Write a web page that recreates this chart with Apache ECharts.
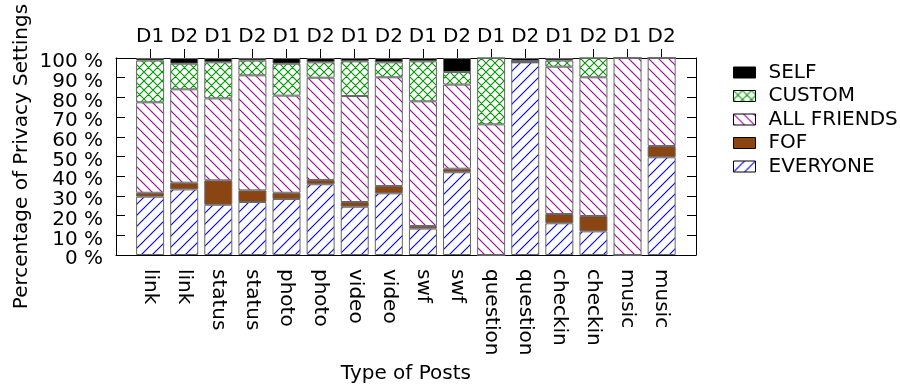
<!DOCTYPE html>
<html><head><meta charset="utf-8">
<script src="https://cdn.jsdelivr.net/npm/echarts@6/dist/echarts.min.js"></script>
<style>html,body{margin:0;padding:0;background:#fff}#c{width:900px;height:386px}</style>
</head><body><div id="c"></div>
<script>
const categories = ['link','link','status','status','photo','photo','video','video','swf','swf','question','question','checkin','checkin','music','music'];
const datasets = ['D1','D2','D1','D2','D1','D2','D1','D2','D1','D2','D1','D2','D1','D2','D1','D2'];
const yTicks = [0,10,20,30,40,50,60,70,80,90,100];
const everyone   = [29.6, 33.3, 25.5, 26.9, 28.4, 35.9, 24.5, 31.3, 13.4, 42.0, 0,    97.8, 16.1, 12.0, 0,   49.6];
const fof        = [2.0,  3.4,  12.4, 5.9,  3.2,  2.2,  2.4,  3.7,  1.3,  1.8,  0,    0,    4.7,  7.8,  0,   5.7];
const allFriends = [45.9, 47.4, 41.6, 58.4, 49.3, 51.9, 53.8, 55.2, 63.3, 42.7, 66.3, 0.7,  74.8, 70.4, 100, 44.7];
const custom     = [21.2, 13.0, 18.3, 7.5,  16.2, 7.8,  17.6, 7.6,  20.3, 6.4,  33.7, 0,    3.1,  9.8,  0,   0];
const self       = [1.3,  2.9,  2.2,  1.3,  2.9,  2.2,  1.7,  2.2,  1.7,  7.1,  0,    1.5,  1.3,  0,    0,   0];

function pattern(color, kind, s) {
  const c = document.createElement('canvas');
  c.width = s; c.height = s;
  const g = c.getContext('2d');
  g.fillStyle = '#ffffff'; g.fillRect(0, 0, s, s);
  g.strokeStyle = color; g.lineWidth = 1.1;
  g.beginPath();
  if (kind !== 'back') {
    g.moveTo(0, s); g.lineTo(s, 0);
    g.moveTo(-2, 2); g.lineTo(2, -2);
    g.moveTo(s - 2, s + 2); g.lineTo(s + 2, s - 2);
  }
  if (kind !== 'fwd') {
    g.moveTo(0, 0); g.lineTo(s, s);
    g.moveTo(-2, s - 2); g.lineTo(2, s + 2);
    g.moveTo(s - 2, -2); g.lineTo(s + 2, 2);
  }
  g.stroke();
  return { type: 'pattern', image: c, repeat: 'repeat' };
}

const FONT = 'DejaVu Sans';
const FS = 20;

const patCustom = pattern('rgb(0,153,0)', 'cross', 9);
const patAll = pattern('rgb(160,0,160)', 'back', 10);
const patEvery = pattern('rgb(0,0,255)', 'fwd', 11);

function mk(name, arr, color) {
  return {
    name, type: 'bar', stack: 'all', barWidth: 28,
    xAxisIndex: 0, yAxisIndex: 2,
    data: arr,
    itemStyle: { color, borderColor: '#666', borderWidth: 1 },
    emphasis: { disabled: true }
  };
}

const lineStyle = { color: '#000', width: 1 };
function labelAxis(values) {
  return {
    type: 'value', gridIndex: 1, position: 'left', min: 0, max: 100, interval: 10,
    axisLine: { show: false }, axisTick: { show: false }, splitLine: { show: false },
    axisLabel: {
      customValues: values, showMinLabel: true, showMaxLabel: true,
      margin: 13, color: '#000',
      formatter: v => '{a|' + v + ' %}',
      rich: { a: { fontFamily: FONT, fontSize: FS, color: '#000', padding: [8, 0, 0, 0] } }
    }
  };
}

const chart = echarts.init(document.getElementById('c'), null, { renderer: 'canvas' });
chart.setOption({
  animation: false,
  backgroundColor: '#fff',
  textStyle: { fontFamily: FONT },
  grid: [
    { left: 133.05, top: 58, right: 221.3, bottom: 131, outerBoundsMode: 'none', containLabel: false },
    { left: 116, top: 58, right: 204, bottom: 131, outerBoundsMode: 'none', containLabel: false }
  ],
  legend: {
    orient: 'vertical', left: 728, top: 57.5,
    itemWidth: 22, itemHeight: 11, itemGap: 3.5,
    icon: 'rect',
    data: ['SELF', 'CUSTOM', 'ALL FRIENDS', 'FOF', 'EVERYONE'],
    itemStyle: { borderColor: '#000', borderWidth: 1 },
    textStyle: { fontFamily: FONT, fontSize: FS, lineHeight: 20, color: '#000', padding: [0, 0, 0, 8] },
    selectedMode: false
  },
  xAxis: [
    {
      type: 'category', gridIndex: 0, position: 'bottom', data: categories,
      axisLine: { show: false }, axisTick: { show: false }, splitLine: { show: false },
      axisLabel: { interval: 0, rotate: -90, margin: 14, fontFamily: FONT, fontSize: FS, color: '#000' },
      name: 'Type of Posts', nameLocation: 'middle', nameGap: 105,
      nameTextStyle: { fontFamily: FONT, fontSize: FS, color: '#000' }
    },
    {
      type: 'category', gridIndex: 0, position: 'top', data: datasets,
      axisLine: { show: false },
      axisTick: { show: true, alignWithLabel: true, interval: 0, inside: false, length: 9, lineStyle },
      splitLine: { show: false },
      axisLabel: { interval: 0, margin: 11, fontFamily: FONT, fontSize: FS, color: '#000' }
    },
    {
      type: 'value', gridIndex: 1, position: 'bottom', min: 0, max: 1,
      axisLine: { show: true, onZero: false, lineStyle }, axisTick: { show: false },
      axisLabel: { show: false }, splitLine: { show: false }
    },
    {
      type: 'value', gridIndex: 1, position: 'top', min: 0, max: 1,
      axisLine: { show: true, onZero: false, lineStyle }, axisTick: { show: false },
      axisLabel: { show: false }, splitLine: { show: false }
    }
  ],
  yAxis: [
    {
      type: 'value', gridIndex: 1, position: 'left', min: 0, max: 100, interval: 10,
      axisLine: { show: true, onZero: false, lineStyle },
      axisTick: { show: true, inside: true, length: 9, lineStyle },
      splitLine: { show: false },
      axisLabel: { show: false }
    },
    {
      type: 'value', gridIndex: 1, position: 'right', min: 0, max: 100, interval: 10,
      axisLine: { show: true, onZero: false, lineStyle },
      axisTick: { show: true, inside: true, length: 9, lineStyle },
      splitLine: { show: false },
      axisLabel: { show: false }
    },
    {
      type: 'value', gridIndex: 0, min: 0, max: 100, interval: 10, show: false
    },
    labelAxis(yTicks.filter((v, i) => i % 2 === 0)),
    labelAxis(yTicks.filter((v, i) => i % 2 === 1))
  ],
  graphic: [{
    type: 'text', x: 22, y: 156.5, rotation: Math.PI / 2,
    style: { text: 'Percentage of Privacy Settings', fontFamily: FONT, fontSize: FS, fill: '#000', align: 'center', verticalAlign: 'middle' }
  }],
  series: [
    mk('EVERYONE', everyone, patEvery),
    mk('FOF', fof, '#8b4513'),
    mk('ALL FRIENDS', allFriends, patAll),
    mk('CUSTOM', custom, patCustom),
    mk('SELF', self, '#000000')
  ]
});
</script>
</body></html>
